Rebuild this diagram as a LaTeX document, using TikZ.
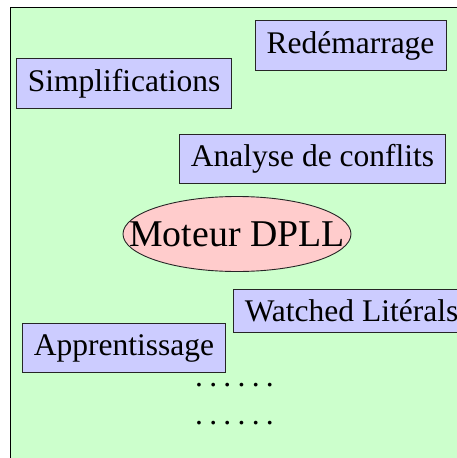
\documentclass[tikz,border=0pt]{standalone}
\usepackage{fontspec}
\setmainfont{Liberation Serif}
\definecolor{fondvert}{HTML}{CCFFCC}
\definecolor{lavande}{HTML}{CCCCFF}
\definecolor{rose}{HTML}{FFCCCC}
\usetikzlibrary{shapes.geometric}
\begin{document}
\begin{tikzpicture}[x=1pt,y=-1pt]
\tikzset{ boite/.style={draw=black!85, fill=lavande, line width=0.9pt, inner xsep=11.5pt, inner ysep=10.3pt, font=\fontsize{31.5}{38}\selectfont},
          moteur/.style={draw=black!85, fill=rose, line width=0.9pt, ellipse, inner sep=0pt, minimum width=228pt, minimum height=75pt, font=\fontsize{37.8}{45}\selectfont},
          points/.style={inner sep=0pt, font=\fontsize{31.5}{38}\selectfont} }

\useasboundingbox (0,0) rectangle (457,458);
\clip (0,0) rectangle (457,458);

% fond
\draw [fill=fondvert, line width=0.9pt] (10.5,7) rectangle (480,480);

\node [boite] (R) at (350.5,45.5) {Redémarrage};
\node [boite] (S) at (124,83.5)   {Simplifications};
\node [boite] (C) at (312.5,159)  {Analyse de conflits};

\node [moteur] (M) at (237,234) {\makebox[0pt]{Moteur DPLL}};

\node [boite] (W) at (351.5,310.5) {Watched Litérals};
\node [boite] (A) at (124,348)     {Apprentissage};

%\node at (234.5,404) {\ldots};
\node [points] (P1) at (234.5,385.3) {.\kern0.2em.\kern0.2em.\kern0.2em.\kern0.2em.\kern0.2em.};
\node [points] (P2) at (234.5,423.3) {.\kern0.2em.\kern0.2em.\kern0.2em.\kern0.2em.\kern0.2em.};

\end{tikzpicture}
\end{document}
